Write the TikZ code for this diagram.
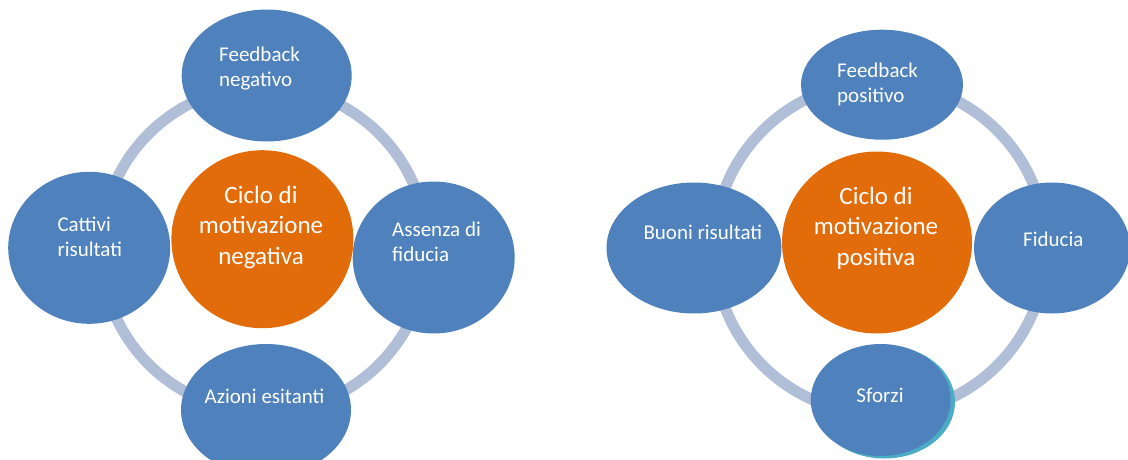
\documentclass[tikz,border=0pt]{standalone}
\usepackage{fontspec}
\setmainfont{Carlito}
\usetikzlibrary{shapes.geometric,positioning}

\definecolor{nodeblue}{HTML}{4F81BD}
\definecolor{coreorange}{HTML}{E36C0A}
\definecolor{ringgrey}{HTML}{B0BFD7}
\definecolor{shadeteal}{HTML}{4BACC6}

\begin{document}
\begin{tikzpicture}[x=1pt,y=-1pt,
    blob/.style={ellipse, fill=nodeblue, inner sep=0pt},
    core/.style={ellipse, fill=coreorange, inner sep=0pt},
    ring/.style={draw=ringgrey, line width=11pt},
    lbl/.style={text=white, inner sep=0pt, align=left, font=\fontsize{21}{25}\selectfont},
    corelbl/.style={text=white, inner sep=0pt, align=center, font=\fontsize{25}{30.5}\selectfont}]
    \useasboundingbox (0,0) rectangle (1128,459);

    % negative cycle
    \draw[ring] (264,249) circle[radius=163];
    \node[blob, minimum width=170pt, minimum height=132pt] (fbneg) at (266.7,75.5) {};
    \node[blob, minimum width=162pt, minimum height=152pt] (assenza) at (433.7,257.5) {};
    \node[blob, minimum width=170pt, minimum height=132pt] (azioni) at (266,410) {};
    \node[blob, minimum width=162pt, minimum height=152pt] (cattivi) at (89.2,247.8) {};
    \node[core, minimum width=182pt, minimum height=178pt] (cicloneg) at (262.4,239.2) {};
    % base anchor = last line
    \node[lbl, anchor=base west] (fbnegtxt) at (219,86) {Feedback\\negativo};
    \node[lbl, anchor=base west] (assenzatxt) at (392,261.5) {Assenza di\\fiducia};
    \node[lbl, anchor=base] (azionitxt) at (264.5,403) {Azioni esitanti};
    \node[lbl, anchor=base west] (cattivitxt) at (57.3,256.7) {Cattivi\\risultati};
    \node[corelbl, anchor=base] (ciclonegtxt) at (261,264) {Ciclo di\\motivazione\\negativa};

    % positive cycle
    \draw[ring] (880,248) circle[radius=166];
    \node[blob, minimum width=162pt, minimum height=110pt] (fbpos) at (882,84.7) {};
    \node[blob, minimum width=156pt, minimum height=131pt] (fiducia) at (1052,248) {};
    \node[blob, fill=shadeteal, minimum width=141pt, minimum height=113pt] (sforzish) at (884.5,402) {};
    \node[blob, minimum width=140pt, minimum height=112pt] (sforzi) at (880.7,400) {};
    \node[blob, minimum width=175pt, minimum height=131pt] (buoni) at (694,248) {};
    \node[core, minimum width=190pt, minimum height=182pt] (ciclopos) at (877,242.5) {};
    \node[lbl, anchor=base west] (fbpostxt) at (837,102.7) {Feedback\\positivo};
    \node[lbl, anchor=base west] (fiduciatxt) at (1023,246.7) {Fiducia};
    \node[lbl, anchor=base] (sforzitxt) at (880,402) {Sforzi};
    \node[lbl, anchor=base west] (buonitxt) at (643.3,239.3) {Buoni risultati};
    \node[corelbl, anchor=base] (ciclopostxt) at (876,265) {Ciclo di\\motivazione\\positiva};
\end{tikzpicture}
\end{document}
